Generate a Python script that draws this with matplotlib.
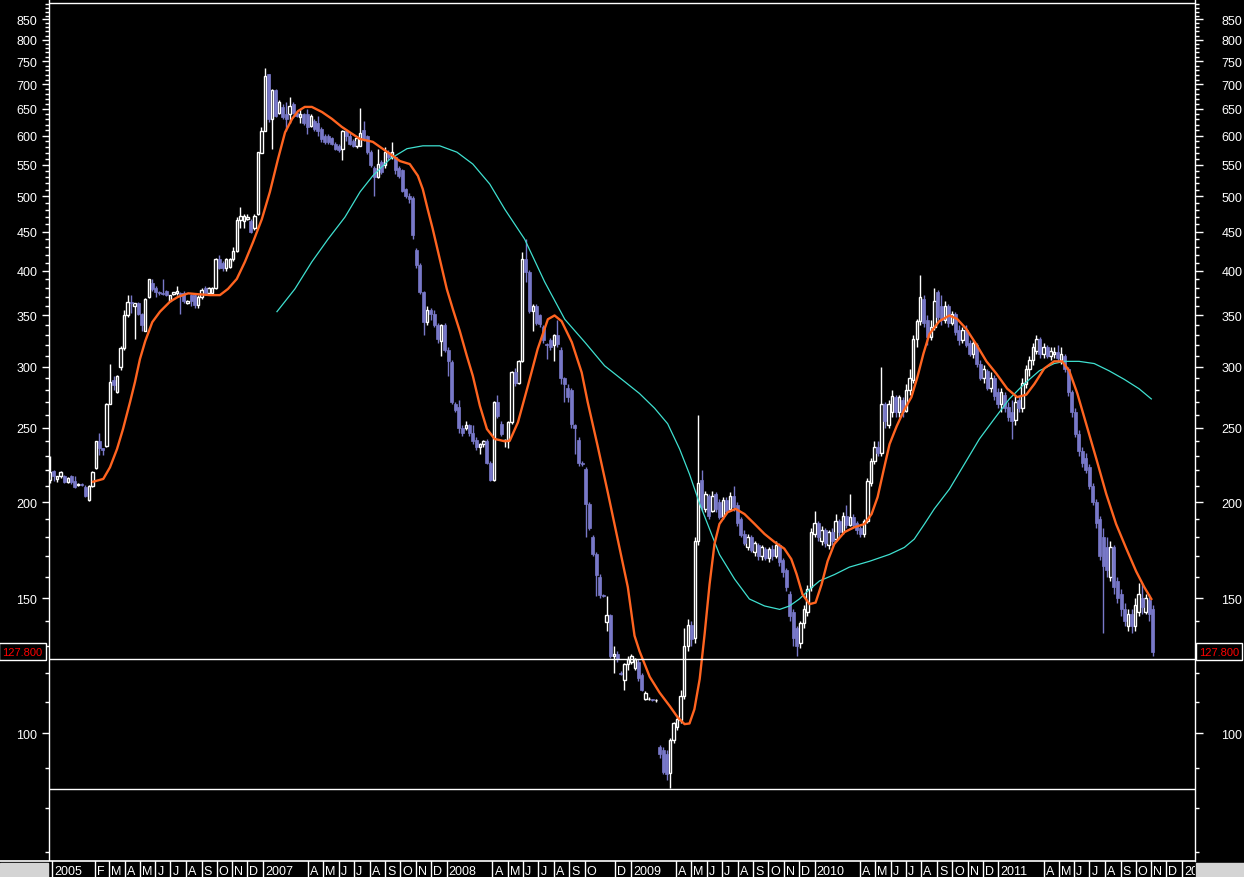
import matplotlib
matplotlib.use("Agg")
import matplotlib.pyplot as plt
from matplotlib.lines import Line2D
from matplotlib.patches import Rectangle
import numpy as np
import pandas as pd

start = pd.Timestamp("2005-11-04")

opens = [214, 219.5, 214.5, 216, 216, 212.5, 216, 213, 210.5, 211,
         209, 201, 210, 221.5, 240, 235, 236.5, 268.5, 288, 278,
         300, 317, 350, 364, 360, 363, 351, 334, 370, 386,
         380, 375, 374, 377, 366, 373, 374, 374, 374, 363,
         372, 372, 361, 370, 380, 374, 374, 380, 415, 410,
         404, 405, 415, 424, 466, 464, 468, 464, 455, 474,
         570, 609, 721, 631, 688, 643, 653, 640, 640, 660,
         643, 634, 640, 640, 618, 627, 624, 612, 600, 600,
         595, 585, 582, 577, 608, 599, 591, 582, 582, 610,
         599, 571, 545, 530, 554, 549, 571, 562, 562, 545,
         541, 511, 501, 498, 426, 407, 375, 343, 356, 352,
         340, 324, 340, 316, 304, 268, 266, 250, 250, 252,
         246, 241, 236, 238, 240, 225, 214, 270, 253, 241,
         240, 254, 295, 286, 305, 415, 399, 355, 360, 350,
         338, 321, 325, 320, 330, 316, 290, 282, 280, 252,
         241, 225, 221, 199, 180, 171, 160, 151.6, 139.6, 142.7,
         126, 127, 120, 117.5, 123, 124, 121.7, 124, 119, 111,
         111, 110.8, 110.5, 96, 95, 94, 88.7, 98, 102, 104,
         112, 130, 138.5, 133, 178, 214, 196, 204, 195, 205,
         200, 192, 201, 196, 204, 198, 190, 182, 175, 180,
         172, 176, 170, 174, 169, 174, 170, 176, 168, 163,
         152, 144, 137, 131, 139, 144, 155, 182, 188, 178,
         184, 176, 183, 179, 189, 183, 192, 187, 191, 188,
         185, 182, 189, 212, 226, 236, 232, 268, 252, 262,
         274, 262, 272, 263, 280, 288, 326, 344, 368, 345,
         328, 338, 375, 360, 345, 360, 342, 352, 335, 325,
         335, 322, 312, 320, 303, 290, 296, 282, 290, 278,
         268, 276, 266, 262, 256, 272, 265, 285, 298, 306,
         315, 326, 312, 318, 310, 312, 314, 306, 310, 298,
         278, 262, 245, 233, 228, 222, 210, 200, 190, 180,
         175, 160, 175, 158, 152, 145, 138, 143, 138, 144,
         150, 144, 149, 145]

highs = [230, 220.5, 216.5, 219.5, 217, 215.5, 217, 216, 211.5, 211.5,
         210.5, 210.5, 219.5, 240.5, 246, 235.5, 269, 303, 292, 293,
         319.5, 356, 372, 372, 363.5, 364, 353, 368.5, 390.5, 390.5,
         382, 377, 390, 378, 372.5, 376, 382, 375, 377, 366.5,
         373, 374, 372, 380, 382, 381, 381, 416, 420, 412,
         416, 416, 430, 470, 485, 475, 475, 467, 474, 572,
         616, 735, 722, 690, 690, 667, 660, 664, 674, 664,
         646, 650, 643, 650, 640, 630, 637, 615, 603, 603,
         598, 588, 585, 610, 612, 605, 594, 600, 651, 627,
         602, 575, 548, 577, 557, 580, 574, 588, 565, 548,
         543, 513, 505, 500, 428, 410, 377, 360, 358, 356,
         342, 341, 342, 318, 306, 270, 272, 252, 255, 253,
         252, 243, 239, 241, 242, 226, 271, 276, 255, 242,
         255, 296, 299, 306, 423, 440, 401, 362, 362, 352,
         340, 322, 327, 331, 345, 318, 291, 285, 282, 253,
         243, 226, 222, 200, 181, 172, 161, 152, 151, 143,
         130, 128, 120.5, 123.5, 126, 127, 125.5, 125, 120, 113.5,
         111.5, 111, 111, 96.5, 96, 95, 98.5, 103.5, 105, 114,
         137, 141, 140, 180, 260, 220, 207, 205, 207, 206,
         202, 203, 203, 206, 210, 200, 191, 184, 182, 181,
         178, 177, 176, 175, 175, 176, 178, 177, 169, 164,
         153, 145, 138, 140, 147, 156, 185, 195, 189, 186,
         185, 184, 185, 193, 190, 194, 198, 205, 193, 189,
         186, 190, 215, 228, 240, 240, 300, 270, 272, 280,
         276, 276, 274, 285, 298, 330, 346, 395, 372, 350,
         345, 380, 378, 372, 365, 362, 355, 354, 340, 338,
         340, 325, 325, 322, 306, 302, 298, 295, 293, 282,
         282, 278, 270, 272, 275, 275, 290, 302, 310, 322,
         330, 328, 322, 320, 318, 318, 320, 318, 312, 300,
         280, 265, 248, 236, 232, 224, 212, 202, 192, 185,
         180, 178, 176, 160, 154, 148, 145, 145, 150, 157,
         157, 152, 152, 147]

lows = [212, 213, 212.5, 215, 212, 212, 211, 208.5, 210, 210,
        203, 200.5, 209.5, 221, 230.5, 230.5, 236, 268, 280, 277,
        297.5, 316, 348, 353, 326, 350, 334, 334, 369, 377,
        370, 372, 372, 371, 365, 372, 372, 352, 363, 362,
        360, 358, 358, 368, 372, 373, 372, 379, 402, 400,
        400, 404, 412, 423, 455, 455, 466, 448, 452, 473,
        569, 608, 625, 577, 634, 640, 630, 609, 624, 640,
        634, 624, 620, 603, 615, 609, 600, 588, 585, 585,
        583, 574, 571, 557, 590, 583, 580, 578, 581, 590,
        568, 547, 501, 528, 535, 545, 557, 560, 535, 528,
        506, 498, 490, 440, 404, 373, 330, 340, 345, 338,
        322, 310, 314, 292, 268, 262, 246, 244, 248, 244,
        238, 234, 231, 236, 224, 213, 213, 257, 244, 236,
        235, 253, 283, 285, 304, 387, 353, 334, 340, 338,
        322, 307, 316, 305, 318, 285, 270, 270, 250, 231,
        223, 223, 180, 184, 170, 151, 150, 150.5, 136, 125.5,
        120, 124, 119, 114, 121, 123, 121, 117, 113.5, 110.5,
        110.5, 110.3, 110, 93, 88.5, 87, 85, 97, 101, 103,
        111, 128, 130, 131, 176, 195, 194, 190, 194, 194,
        190, 190, 193, 195, 195, 186, 180, 176, 173, 172,
        170, 168, 168, 168, 167, 168, 169, 165, 160, 153,
        140, 130, 126, 129, 137, 142, 153, 180, 178, 176,
        175, 174, 176, 178, 180, 182, 185, 186, 185, 182,
        180, 180, 188, 210, 224, 230, 230, 250, 250, 258,
        258, 258, 258, 262, 276, 286, 318, 340, 338, 320,
        325, 335, 345, 340, 342, 338, 340, 330, 320, 322,
        318, 310, 308, 300, 288, 286, 280, 278, 272, 265,
        262, 262, 255, 242, 252, 262, 262, 282, 292, 302,
        312, 308, 308, 308, 306, 308, 305, 303, 295, 275,
        258, 243, 230, 222, 218, 208, 198, 185, 168, 135,
        160, 158, 152, 148, 142, 138, 136, 135, 136, 142,
        143, 143, 140, 126]

closes = [219, 216, 216, 219, 212.5, 215, 212.5, 209, 211, 210.5,
          204, 210, 219, 240, 235, 234, 268.5, 286.5, 284, 292,
          317, 350, 364, 363, 363, 351, 340, 368, 390, 379,
          375, 374, 373, 372, 372, 375, 377, 371, 365, 366,
          365, 361, 370, 378, 374, 380, 380, 415, 404, 404,
          415, 415, 424, 466, 472, 472, 470, 450, 472, 571,
          609, 718, 631, 688, 637, 664, 634, 630, 656, 643,
          637, 640, 624, 615, 637, 612, 609, 594, 588, 588,
          585, 577, 574, 608, 599, 585, 582, 595, 605, 594,
          571, 549, 530, 551, 538, 571, 562, 571, 541, 532,
          508, 501, 496, 445, 407, 375, 343, 356, 352, 340,
          326, 340, 316, 305, 270, 264, 250, 246, 252, 246,
          240, 236, 238, 240, 225, 214, 270, 259, 245, 241,
          254.5, 295, 286, 305, 415, 399, 355, 360, 342, 341,
          325, 320, 318, 330, 321, 290, 285, 274, 252.6, 250,
          225, 224, 199, 185, 171, 160.6, 151.6, 151, 142.7, 126,
          127, 125, 119.5, 123, 125, 126, 125, 118, 114, 113,
          111, 110.5, 110.5, 94, 89, 88.5, 98, 103, 104.5, 112,
          130, 138.5, 132.7, 178, 212, 197, 205, 192, 204, 196,
          191, 201, 195, 204, 197, 188, 181, 177, 180, 173,
          177, 170, 175, 169, 174, 170, 176, 167, 162, 155,
          142, 133, 130, 139, 145, 154, 183, 188, 180, 184,
          177, 183, 178, 189, 183, 192, 187, 191, 187, 184,
          182, 189, 213, 226, 236, 232, 268, 255, 268, 275,
          262, 274, 262, 280, 290, 326, 344, 370, 342, 328,
          338, 365, 348, 345, 360, 342, 352, 333, 325, 335,
          320, 312, 322, 303, 290, 298, 282, 290, 275, 268,
          278, 265, 258, 255, 270, 265, 286, 298, 306, 318,
          326, 312, 318, 310, 315, 314, 308, 312, 298, 278,
          262, 245, 233, 225, 220, 210, 200, 188, 170, 165,
          163, 175, 155, 150, 145, 140, 143, 138, 147, 152,
          146, 150, 143, 127.8]

# orange average, read at week positions
fast_weeks = [12.2, 15.1, 17.0, 19.0, 20.7, 22.7, 24.1, 25.5, 27.0, 29.0,
              31.2, 34.1, 36.3, 39.2, 42.0, 45.4, 48.2, 50.5, 53.0, 55.3,
              57.6, 60.1, 62.4, 64.7, 66.7, 68.7, 70.4, 72.3, 74.3, 77.2,
              80.0, 82.8, 85.1, 88.0, 91.6, 96.5, 99.3, 102.1, 104.4, 105.8,
              107.2, 108.6, 110.6, 112.6, 114.3, 116.3, 118.3, 120.0, 122.0, 124.0,
              126.2, 129.1, 130.5, 132.8, 135.6, 138.4, 141.3, 143.2, 145.2, 148.1,
              150.9, 152.6, 155.4, 158.3, 161.1, 164.0, 165.9, 167.3, 170.2, 173.0,
              175.9, 178.1, 180.1, 181.5, 182.9, 184.4, 185.8, 187.2, 188.6, 190.0,
              192.3, 194.6, 197.1, 200.0, 202.8, 205.6, 208.4, 210.4, 211.9, 213.6,
              215.6, 217.3, 219.0, 220.7, 222.6, 225.5, 228.3, 231.2, 233.2, 234.9,
              236.6, 238.3, 240.3, 242.5, 244.5, 246.2, 247.9, 249.6, 252.4, 255.3,
              257.5, 260.1, 262.9, 265.8, 268.6, 271.7, 274.5, 277.1, 279.4, 282.2,
              285.0, 287.3, 289.3, 291.6, 294.1, 297.0, 299.8, 302.6, 305.5, 308.3,
              310.6, 312.6]
fast_vals = [212.6, 214.4, 222, 234.5, 249, 270, 286.7, 307, 324, 343,
             354, 365, 370, 374, 373, 372, 372, 379, 390.5, 411,
             436, 467, 507, 559.5, 606, 631, 646, 654, 654, 644,
             631, 616, 606, 594, 589, 568, 556, 551, 532, 511,
             481, 454, 414.6, 379, 357, 334, 310, 292, 267, 249,
             241.7, 240, 240.5, 254, 283, 316.5, 346, 350, 344, 323,
             295, 270, 237, 206, 179, 155, 134, 128, 118.5, 113,
             108.5, 105, 102.8, 103, 107.5, 117.7, 134.7, 156.3, 176.4, 187.3,
             194, 196, 193, 187.3, 181.8, 177.5, 174, 168.6, 161.2, 151.6,
             147.3, 148, 156.3, 167.5, 176.4, 182.8, 185.5, 187.3, 193, 203,
             220, 238, 251, 264, 274, 291, 312, 331, 344, 350,
             346.3, 336, 321, 305, 294, 281, 274, 276, 285, 298.5,
             305, 305, 296.5, 277, 253, 227.6, 205, 187.3, 174, 162.5,
             155, 149.6]

# teal average
slow_weeks = [64.4, 69.5, 74.3, 78.9, 83.7, 88.0, 91.6, 96.5, 101.3, 105.8,
              110.6, 115.5, 120.0, 124.8, 129.1, 134.7, 140.4, 146.1, 151.8, 157.4,
              163.1, 167.3, 171.6, 175.3, 178.7, 181.5, 184.4, 187.2, 190.0, 194.3,
              198.5, 202.8, 207.1, 209.9, 212.7, 215.6, 218.4, 222.7, 226.9, 232.6,
              238.3, 242.5, 245.3, 248.2, 251.0, 255.3, 259.5, 263.8, 268.0, 272.3,
              276.5, 280.8, 285.0, 287.9, 292.1, 296.4, 300.6, 304.9, 309.1, 312.6]
slow_vals = [354, 379, 411, 440, 470, 507, 532, 559.5, 577, 582,
             582, 571, 551, 519, 481, 440, 387, 346, 323, 301,
             287, 277, 265, 253, 234.5, 217.5, 199, 184.5, 171, 158.8,
             149.6, 146.5, 145, 146.5, 149.6, 154, 157.9, 161, 164.6, 167.5,
             171, 174.6, 179, 187.3, 196, 208, 224, 241.7, 256.6, 272.5,
             285, 296.5, 303, 305, 305, 303, 296.5, 289, 281, 272.5]

level_lines = [891.8, 125.0, 84.6]
last_label = "127.800"
last_value = 127.8

major_ticks = list(range(100, 900, 50))
minor_ticks = [v for v in range(70, 910, 10) if v % 50 != 0]

month_dates = ["2005-11-08", "2006-02-01", "2006-03-01", "2006-04-01", "2006-05-01",
               "2006-06-01", "2006-07-01", "2006-08-01", "2006-09-01", "2006-10-01",
               "2006-11-01", "2006-12-01",
               "2007-01-01", "2007-04-01", "2007-05-01", "2007-06-01", "2007-07-01",
               "2007-08-01", "2007-09-01", "2007-10-01", "2007-11-01", "2007-12-01",
               "2008-01-01", "2008-04-01", "2008-05-01", "2008-06-01", "2008-07-01",
               "2008-08-01", "2008-09-01", "2008-10-01", "2008-12-01",
               "2009-01-01", "2009-04-01", "2009-05-01", "2009-06-01", "2009-07-01",
               "2009-08-01", "2009-09-01", "2009-10-01", "2009-11-01", "2009-12-01",
               "2010-01-01", "2010-04-01", "2010-05-01", "2010-06-01", "2010-07-01",
               "2010-08-01", "2010-09-01", "2010-10-01", "2010-11-01", "2010-12-01",
               "2011-01-01", "2011-04-01", "2011-05-01", "2011-06-01", "2011-07-01",
               "2011-08-01", "2011-09-01", "2011-10-01", "2011-11-01", "2011-12-01",
               "2012-01-01"]
month_labels = ["2005", "F", "M", "A", "M", "J", "J", "A", "S", "O", "N", "D",
                "2007", "A", "M", "J", "J", "A", "S", "O", "N", "D",
                "2008", "A", "M", "J", "J", "A", "S", "O", "D",
                "2009", "A", "M", "J", "J", "A", "S", "O", "N", "D",
                "2010", "A", "M", "J", "J", "A", "S", "O", "N", "D",
                "2011", "A", "M", "J", "J", "A", "S", "O", "N", "D",
                "2012"]

plt.rcParams["font.family"] = ["Liberation Sans", "DejaVu Sans"]

W, H = 1244, 878
fig = plt.figure(figsize=(W / 100, H / 100), dpi=100, facecolor="black")
ax = fig.add_axes([49 / W, 16 / H, 1146 / W, 862 / H], facecolor="black")

o = np.array(opens, dtype=float)
h = np.array(highs, dtype=float)
l = np.array(lows, dtype=float)
c = np.array(closes, dtype=float)
x = np.arange(len(c))
up = c >= o
blue = "#7878c8"

ax.vlines(x[up], l[up], h[up], color="white", lw=1, zorder=2)
ax.vlines(x[~up], l[~up], h[~up], color=blue, lw=1, zorder=2)
ax.bar(x[up], (c - o)[up], bottom=o[up], width=0.68, facecolor="black",
       edgecolor="white", lw=1, zorder=3)
ax.bar(x[~up], (o - c)[~up], bottom=c[~up], width=0.85, color=blue,
       edgecolor=blue, lw=0.5, zorder=3)

ax.plot(slow_weeks, slow_vals, color="#3fe0d0", lw=0.9, zorder=4)
ax.plot(fast_weeks, fast_vals, color="#ff6420", lw=1.7, zorder=5)

for v in level_lines:
    ax.axhline(v, color="white", lw=1, zorder=6)

ymin, ymax = 68.2, 903.8
ax.set_yscale("log")
ax.set_ylim(ymin, ymax)
ax.set_xlim(-0.31, 325.0)
ax.set_xticks([])
ax.set_yticks(major_ticks, [str(v) for v in major_ticks])
ax.set_yticks(minor_ticks, minor=True)
ax.yaxis.set_minor_formatter(plt.NullFormatter())
ax.tick_params(axis="y", which="major", direction="out", length=5, width=1,
               color="white", labelcolor="white", labelsize=9, pad=3.5)
ax.tick_params(axis="y", which="minor", direction="out", length=2.7, width=1,
               color="white")
for side in ["top", "bottom", "right"]:
    ax.spines[side].set_visible(False)
ax.spines["left"].set_color("white")
ax.spines["left"].set_linewidth(1)

rax = ax.twinx()
rax.set_yscale("log")
rax.set_ylim(ymin, ymax)
rax.set_yticks(major_ticks, [str(v) for v in major_ticks])
rax.set_yticks(minor_ticks, minor=True)
rax.yaxis.set_minor_formatter(plt.NullFormatter())
rax.tick_params(axis="y", which="major", direction="out", length=5.5, width=1,
                color="white", labelcolor="white", labelsize=9, pad=13.5)
rax.tick_params(axis="y", which="minor", direction="out", length=2.7, width=1,
                color="white")
for side in ["top", "bottom", "left"]:
    rax.spines[side].set_visible(False)
rax.spines["right"].set_color("white")
rax.spines["right"].set_linewidth(1)

# last price boxes
ypix = ax.transData.transform((0, last_value))[1]
for xc in [22.5 / W, 1219 / W]:
    fig.text(xc, ypix / H, last_label, color="red", fontsize=8, ha="center",
             va="center", bbox=dict(boxstyle="square,pad=0.3", fc="black",
                                    ec="white", lw=1))

# date strip
sax = fig.add_axes([49 / W, 0, 1146 / W, 16 / H], facecolor="black")
sax.set_xlim(ax.get_xlim())
sax.set_ylim(0, 1)
sax.set_xticks([])
sax.set_yticks([])
for s in sax.spines.values():
    s.set_visible(False)
for d, lab in zip(month_dates, month_labels):
    xm = (pd.Timestamp(d) - start).days / 7
    sax.axvline(xm, color="white", lw=1)
    sax.text(xm + 0.6, 0.4, lab, color="white", fontsize=9, ha="left",
             va="center", clip_on=True)

fig.add_artist(Rectangle((0, 0), 48 / W, 14 / H, transform=fig.transFigure,
                         color="#d4d4d4"))
fig.add_artist(Rectangle((1196 / W, 0), 48 / W, 14 / H, transform=fig.transFigure,
                         color="#d4d4d4"))
fig.add_artist(Line2D([0, 1195 / W], [16 / H, 16 / H], color="white", lw=1.2,
                      transform=fig.transFigure))

fig.savefig("out.png", dpi=100, facecolor="black")
